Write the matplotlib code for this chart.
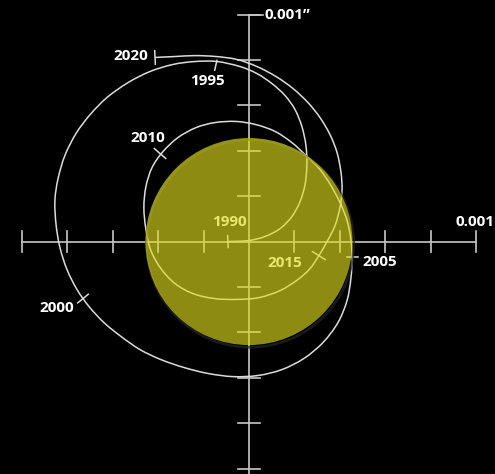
import matplotlib
matplotlib.use("Agg")
import matplotlib.pyplot as plt
import numpy as np
from matplotlib.patches import Circle, PathPatch
from matplotlib.path import Path

# path of the sun's centre, 1990-2020, in micro-arcseconds
path_x = [-93, -4, 70, 137, 189, 225, 247, 255, 251, 233, 203, 159, 101, 35, -40,
          -141, -238, -335, -436, -533, -626, -700, -762, -811, -841, -855, -850,
          -833, -802, -758, -705, -639, -564, -480, -388, -286, -181, -70, 40, 145,
          242, 326, 392, 432, 449, 454, 449, 432, 401, 361, 313, 251, 189, 115, 31,
          -57, -150, -233, -313, -379, -427, -454, -463, -454, -432, -388, -326,
          -247, -154, -53, 44, 137, 216, 269, 308, 344, 379, 401, 410, 405, 388,
          357, 313, 260, 194, 119, 35, -53, -145, -238, -326, -414]
path_y = [0, 4, 22, 57, 110, 176, 251, 335, 423, 507, 581, 643, 696, 740, 771,
          793, 793, 780, 749, 700, 634, 559, 476, 379, 278, 181, 75,
          -26, -123, -211, -286, -357, -418, -476, -520, -555, -581, -595, -590, -564,
          -515, -445, -357, -260, -163, -70, 9, 93, 172, 247, 317, 379, 436, 485, 515,
          529, 524, 502, 458, 396, 326, 242, 150, 53, -40, -119, -185,
          -229, -251, -255, -247, -216, -167, -119, -62, 0, 70, 150, 229, 308, 392,
          471, 546, 612, 674, 727, 771, 802, 815, 819, 815, 811]

years = ["1990", "1995", "2000", "2005", "2010", "2015", "2020"]
year_x = [-93, -141, -731, 454, -392, 308, -414]
year_y = [0, 793, -251, -70, 388, -62, 811]
label_x = [-88, -185, -846, 577, -445, 159, -520]
label_y = [84, 709, -291, -88, 458, -93, 819]
# tick length on each side of the path (inner, outer), micro-arcsec
tick_a = [26, 35, 30, 22, 33, 33, 30]
tick_b = [26, 0, 30, 26, 33, 33, 30]

axis_ticks = [-1000, -800, -600, -400, -200, 200, 400, 600, 800, 1000]
sun_radius = 456

fig = plt.figure(figsize=(4.95, 4.74), dpi=100, facecolor="black")
ax = fig.add_axes([0, 0, 1, 1])
ax.set_facecolor("black")
ax.set_xlim(-1097, 1084)
ax.set_ylim(-1024, 1064)
ax.axis("off")

axc = "#c8c8c8"
ax.plot([-1000, 1000], [0, 0], color=axc, lw=1.2, zorder=1)
ax.plot([0, 0], [-1060, 1000], color=axc, lw=1.2, zorder=1)
for t in axis_ticks:
    ax.plot([t, t], [-46, 46], color=axc, lw=1.2, zorder=1)
    ax.plot([-50, 50], [t, t], color=axc, lw=1.2, zorder=1)
ax.plot([0, 62], [1000, 1000], color=axc, lw=1.2, zorder=1)

px = np.array(path_x, float)
py = np.array(path_y, float)

# smooth curve through the read points (Catmull-Rom as cubic Beziers)
pts = np.column_stack([px, py])
ext = np.vstack([pts[0], pts, pts[-1]])
verts = [pts[0]]
codes = [Path.MOVETO]
for i in range(1, len(ext) - 2):
    p0, p1, p2, p3 = ext[i - 1], ext[i], ext[i + 1], ext[i + 2]
    verts += [p1 + (p2 - p0) / 6, p2 - (p3 - p1) / 6, p2]
    codes += [Path.CURVE4] * 3
ax.add_patch(PathPatch(Path(verts, codes), facecolor="none", edgecolor="#dcdcdc",
                       lw=1.1, zorder=2))

# year markers: short strokes across the path
for i in range(len(years)):
    x0, y0 = year_x[i], year_y[i]
    k = int(np.argmin((px - x0) ** 2 + (py - y0) ** 2))
    k0, k1 = max(k - 1, 0), min(k + 1, len(px) - 1)
    tx, ty = px[k1] - px[k0], py[k1] - py[k0]
    n = np.hypot(tx, ty)
    nx, ny = ty / n, -tx / n
    if years[i] == "1995":
        ax.plot([x0, x0 - 10], [y0 + 5, y0 - 38], color="#dcdcdc", lw=1.1, zorder=2)
    else:
        ax.plot([x0 - tick_a[i] * nx, x0 + tick_b[i] * nx],
                [y0 - tick_a[i] * ny, y0 + tick_b[i] * ny],
                color="#dcdcdc", lw=1.1, zorder=2)
    ax.text(label_x[i], label_y[i], years[i], color="white", fontsize=11,
            fontfamily="Open Sans", fontweight="bold", ha="center", va="center", zorder=3)

ax.text(70, 1000, "0.001\u201d", color="white", fontsize=11, fontfamily="Open Sans",
        fontweight="bold", ha="left", va="center", zorder=3)
ax.text(1082, 84, "0.001", color="white", fontsize=11, fontfamily="Open Sans",
        fontweight="bold", ha="right", va="center", zorder=3)

# sun, drawn over everything with some transparency
ax.add_patch(Circle((5, -9), sun_radius + 1, facecolor="none", edgecolor="#262626",
                    lw=1.8, alpha=0.7, zorder=4))
ax.add_patch(Circle((0, 0), sun_radius, facecolor="#dedb1c", edgecolor="none",
                    alpha=0.64, zorder=5))

fig.savefig("out.png", dpi=100, facecolor="black")
